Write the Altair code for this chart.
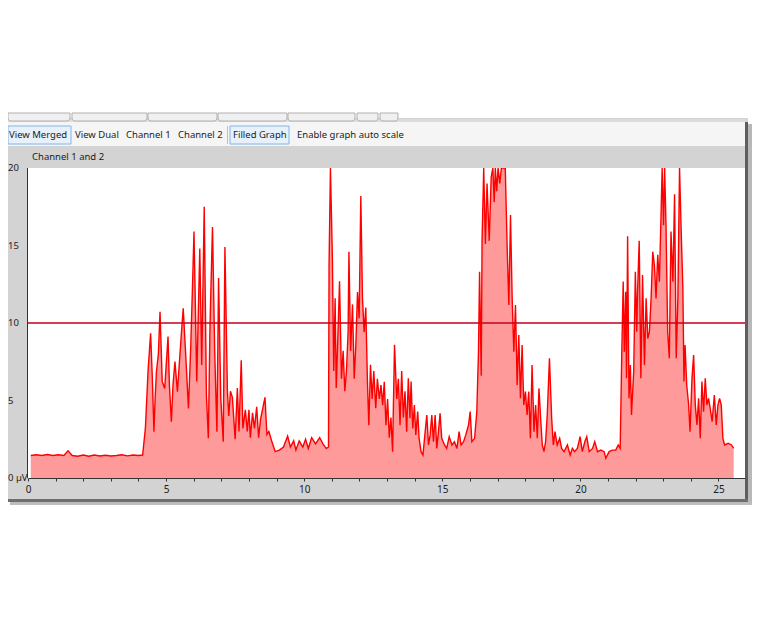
import altair as alt
import pandas as pd

# ---- data (seconds, µV) ----
t = [0.10, 0.30, 0.50, 0.70, 0.90, 1.10, 1.30, 1.45, 1.60, 1.80, 2.00, 2.20, 2.40, 2.60, 2.80,
     3.00, 3.20, 3.40, 3.60, 3.80, 4.00, 4.15, 4.25, 4.35, 4.44, 4.50, 4.56, 4.60, 4.65, 4.72,
     4.78, 4.86, 4.95, 5.07, 5.12, 5.19, 5.25, 5.32, 5.41, 5.50, 5.56, 5.62, 5.71, 5.81, 5.89,
     5.95, 6.01, 6.11, 6.22, 6.29, 6.38, 6.46, 6.53, 6.59, 6.68, 6.76, 6.84, 6.90, 6.98, 7.07,
     7.13, 7.22, 7.27, 7.33, 7.40, 7.50, 7.58, 7.64, 7.72, 7.78, 7.87, 7.94, 8.00, 8.05, 8.13,
     8.20, 8.28, 8.35, 8.42, 8.58, 8.65, 8.72, 8.82, 8.95, 9.10, 9.25, 9.40, 9.50, 9.62, 9.70,
     9.82, 9.95, 10.05, 10.15, 10.27, 10.41, 10.56, 10.68, 10.80, 10.88,
     10.90, 10.95, 11.02, 11.07, 11.12, 11.16, 11.22, 11.28, 11.35, 11.41, 11.47, 11.53, 11.59,
     11.62, 11.68, 11.75, 11.81, 11.87, 11.93, 11.99, 12.05, 12.11, 12.17, 12.23, 12.29, 12.34,
     12.40, 12.46, 12.52, 12.59, 12.65, 12.72, 12.78, 12.84, 12.90, 12.96, 13.02, 13.08, 13.14,
     13.20, 13.27, 13.35, 13.41, 13.47, 13.53, 13.59, 13.65,
     13.71, 13.77, 13.83, 13.87, 13.93, 13.99, 14.04, 14.11, 14.16, 14.23, 14.30, 14.38, 14.44,
     14.50, 14.56, 14.62, 14.68, 14.74, 14.80, 14.86, 14.92, 14.98, 15.08, 15.16, 15.25, 15.35,
     15.44, 15.53, 15.61, 15.68, 15.77, 15.85, 15.95, 16.01, 16.07, 16.17, 16.25, 16.31, 16.35,
     16.41, 16.44, 16.50, 16.56, 16.62, 16.70, 16.77, 16.83, 16.88, 16.92, 16.97, 17.02, 17.08,
     17.14, 17.20, 17.28, 17.35, 17.41, 17.47, 17.53, 17.59, 17.65, 17.71, 17.77, 17.83, 17.89,
     17.95, 18.01, 18.07, 18.13, 18.19, 18.25, 18.32, 18.38, 18.44, 18.50, 18.56, 18.62, 18.68,
     18.74, 18.80, 18.88, 18.96, 19.02, 19.08, 19.16, 19.25, 19.32,
     19.41, 19.53, 19.63, 19.71, 19.79, 19.89, 19.99, 20.07, 20.16, 20.23, 20.32, 20.44, 20.52,
     20.62, 20.74, 20.86, 20.92, 21.04, 21.16, 21.28, 21.37, 21.44, 21.50, 21.55, 21.59, 21.64,
     21.67, 21.71, 21.76, 21.81, 21.85, 21.93, 21.99, 22.04, 22.07, 22.13, 22.19, 22.25, 22.32,
     22.38, 22.44, 22.50, 22.56, 22.62, 22.68, 22.74, 22.80, 22.86, 22.92, 22.96, 23.01, 23.05,
     23.10, 23.16, 23.22, 23.28, 23.35, 23.41, 23.47, 23.53, 23.59, 23.65, 23.71, 23.75, 23.79,
     23.85, 23.92, 23.97, 24.04, 24.10, 24.16, 24.22, 24.28, 24.34, 24.40, 24.46, 24.52, 24.58,
     24.64, 24.70, 24.77, 24.85, 24.92, 24.98, 25.04, 25.10, 25.16, 25.22, 25.35, 25.47, 25.55]

v = [1.45, 1.50, 1.45, 1.52, 1.45, 1.50, 1.45, 1.75, 1.45, 1.40, 1.48, 1.40, 1.48, 1.42, 1.47,
     1.42, 1.45, 1.50, 1.43, 1.48, 1.45, 1.48, 3.2, 7.0, 9.33, 6.5, 2.99, 5.0, 6.86, 8.0,
     10.73, 6.22, 5.78, 9.12, 6.0, 3.63, 6.0, 7.51, 5.57, 7.94, 9.5, 10.95, 7.94, 4.49, 8.37,
     12.0, 15.9, 6.22, 14.8, 7.29, 17.5, 5.35, 2.56, 9.87, 16.2, 8.15, 2.99, 12.9, 5.14, 2.34,
     14.9, 5.6, 4.0, 5.6, 5.2, 2.5, 5.8, 3.0, 7.6, 3.2, 4.4, 3.0, 4.4, 2.6, 4.2,
     3.2, 4.6, 2.6, 3.8, 5.2, 2.8, 3.0, 2.4, 1.7, 1.8, 2.0, 2.7, 2.0, 2.4, 1.8,
     2.4, 2.0, 2.5, 1.9, 2.6, 2.2, 2.6, 2.2, 1.9, 2.0,
     13.7, 20.0, 14.2, 6.9, 11.6, 5.8, 9.2, 12.7, 6.4, 8.2, 5.6, 6.9, 9.4,
     14.6, 8.2, 11.2, 6.4, 8.6, 12.0, 10.3, 18.2, 11.6, 9.4, 11.0, 6.2, 3.4,
     7.3, 5.1, 6.9, 4.5, 6.4, 5.1, 6.0, 4.7, 6.2, 3.4, 5.1, 2.6, 3.9,
     1.7, 8.6, 5.1, 6.4, 3.4, 6.9, 3.9, 5.6,
     2.99, 6.43, 3.85, 6.22, 3.2, 4.71, 2.78, 4.28, 2.56, 1.7, 1.48, 2.99, 4.06,
     2.13, 2.78, 4.06, 2.34, 4.06, 1.91, 2.99, 4.17, 2.56, 2.13, 1.91, 2.67, 2.13,
     2.34, 1.91, 2.99, 2.13, 2.34, 2.78, 3.42, 4.28, 2.34, 2.56, 4.28, 8.15, 13.3,
     6.6, 15.3, 20.0, 15.1, 19.0, 15.3, 19.4, 20.0, 17.8, 20.0, 18.5, 20.0, 19.0,
     20.0, 20.0, 20.0, 14.8, 11.16, 16.97, 11.59, 8.15, 11.16, 6.0, 9.23, 5.14, 8.58,
     4.71, 5.57, 4.06, 5.57, 2.56, 7.29, 2.99, 4.71, 2.56, 5.78, 3.85, 2.13, 1.7,
     2.34, 4.06, 7.72, 3.85, 2.13, 2.99, 2.13, 2.56, 1.91,
     1.7, 2.13, 1.48, 1.91, 1.7, 1.91, 2.67, 1.7, 2.34, 2.67, 1.7, 1.91, 2.34,
     1.7, 1.8, 1.7, 1.27, 1.7, 1.8, 1.8, 2.13, 1.91, 8.15, 12.67, 8.15, 12.02,
     6.43, 15.6, 5.14, 7.29, 4.06, 6.86, 13.3, 9.44, 12.02, 15.3, 6.43, 13.1, 7.29,
     11.59, 9.0, 9.44, 11.59, 14.6, 13.74, 11.59, 14.4, 12.67, 16.97, 20.0, 16.3, 20.0,
     16.3, 9.44, 7.72, 15.9, 12.67, 18.3, 7.72, 11.59, 20.0, 15.9, 12.25, 6.22, 8.58,
     6.0, 4.71, 2.99, 6.43, 7.94, 4.71, 3.42, 5.14, 2.56, 6.22, 4.28, 6.43, 4.71,
     5.14, 4.49, 3.63, 5.35, 3.42, 4.71, 5.14, 4.71, 2.56, 2.13, 2.24, 2.13, 1.91]

threshold = [10]
y_label_values = [0, 5, 10, 15, 20]
y_label_texts = ["0 µV", "5", "10", "15", "20"]
y_ticks = list(range(1, 21))
x_ticks = list(range(0, 26))
toolbar_labels = ["View Merged", "View Dual", "Channel 1", "Channel 2", "Filled Graph",
                  "Enable graph auto scale"]
toolbar_x = [-19, 47, 98, 150, 205, 269]
panel_title = "Channel 1 and 2"

FONT = "Noto Sans"
W, H = 717, 310

df = pd.DataFrame({"t": t, "v": v})
one = pd.DataFrame({"k": [0]})

x_scale = alt.Scale(domain=[0, 25.96], nice=False, zero=False)
y_scale = alt.Scale(domain=[0, 20], nice=False)


def box(x1, x2, y1, y2, fill, stroke=None, sw=1, **kw):
    opts = dict(fill=fill, **kw)
    if stroke:
        opts.update(stroke=stroke, strokeWidth=sw)
    return alt.Chart(one).mark_rect(**opts).encode(
        x=alt.value(x1), x2=alt.value(x2), y=alt.value(y1), y2=alt.value(y2))


def label(txt, x, y, size=9.5):
    return alt.Chart(one).mark_text(align="left", baseline="middle", font=FONT,
                                    fontSize=size, color="#1b1b1b").encode(
        x=alt.value(x), y=alt.value(y), text=alt.value(txt))


chrome = [
    box(-20, 720, -50, 333, "#d3d3d3"),                    # window frame
    box(-20, 718, -49, -46, "#dcdcdc"),                    # top border strip
]
for a, b in [(-20, 42), (44, 119), (120, 189), (190, 259), (260, 327), (329, 350), (352, 370)]:
    chrome.append(box(a, b, -55, -47, "#f0f0f0", stroke="#b0b0b0",
                      cornerRadiusBottomLeft=3, cornerRadiusBottomRight=3))
chrome += [
    box(-20, 718, -46, -22, "#f5f5f5"),                    # toolbar
    box(-20, 43, -42, -24, "#e6f1fb", stroke="#80b5e6"),   # View Merged button
    box(202, 261, -42, -24, "#e6f1fb", stroke="#80b5e6"),  # Filled Graph button
    box(199, 200, -42, -24, "#c0c0c0"),                    # separator
    box(-20, 718, -22, 0, "#d3d3d3"),                      # header band
    box(0, W, 0, H, "#ffffff"),                            # plot area
    box(-1, 0, 0, H, "#333333"),                           # left axis line
    box(717, 720, -46, 333, "#5e5e5e"),                    # right border
    box(720, 724, -44, 335, "#b8b8b8"),                    # right shadow
    box(-20, 720, 331, 334, "#6e6e6e"),                    # bottom border
    box(-18, 724, 334, 337, "#bdbdbd"),                    # bottom shadow
]

area = alt.Chart(df).mark_area(
    color="#ff9a9a", opacity=1, clip=True, interpolate="linear",
    line={"color": "#ff0000", "strokeWidth": 1.4},
).encode(
    x=alt.X("t:Q", scale=x_scale, axis=alt.Axis(
        values=x_ticks, title=None, grid=False, zindex=1,
        labelExpr="datum.value % 5 == 0 ? datum.label : ''",
        labelFlush=False, labelOverlap=False, labelFont=FONT, labelFontSize=10,
        labelColor="#1b1b1b", labelPadding=3, tickSize=3, tickColor="#333333",
        domainColor="#333333")),
    y=alt.Y("v:Q", scale=y_scale, axis=alt.Axis(
        values=y_ticks, title=None, grid=False, zindex=1, labels=False,
        tickSize=3, tickColor="#333333", domainColor="#333333")),
)

y_text = alt.Chart(pd.DataFrame({"yv": y_label_values, "txt": y_label_texts})).mark_text(
    align="left", baseline="middle", font=FONT, fontSize=9.5, color="#1b1b1b").encode(
    y=alt.Y("yv:Q", scale=y_scale, axis=None), x=alt.value(-20), text="txt:N")

rule = alt.Chart(pd.DataFrame({"level": threshold})).mark_rule(
    color="#c4001a", strokeWidth=1.5).encode(y=alt.Y("level:Q", scale=y_scale, axis=None))

texts = [label(s, x, -33) for s, x in zip(toolbar_labels, toolbar_x)]
texts.append(label(panel_title, 4, -11))

chart = alt.layer(*chrome, area, rule, y_text, *texts).properties(
    width=W, height=H,
    autosize=alt.AutoSizeParams(type="none"),
    padding={"left": 20, "top": 160, "right": 12, "bottom": 40},
).configure(background="white").configure_view(stroke=None, fill="white")

chart.save("out.html", embed_options={"renderer": "svg", "actions": False})
